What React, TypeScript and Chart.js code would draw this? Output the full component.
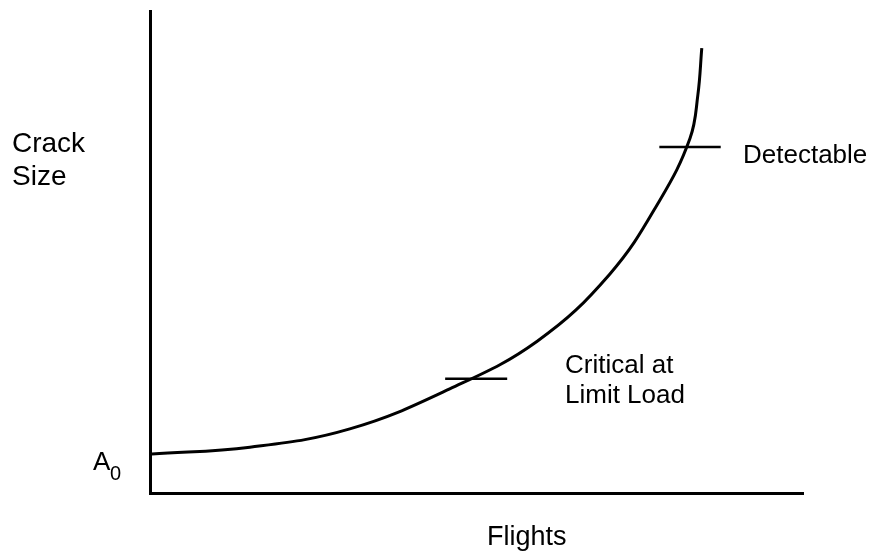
import React, { useEffect, useRef } from "react";
import { Chart, registerables } from "chart.js";

Chart.register(...registerables);

// Crack growth curve (x: flights %, y: crack size %)
const flights = [0.3, 15.3, 30.6, 45.9, 59.3, 70.4, 78.1, 82.7, 83.9, 84.5];
const crackSize = [8.1, 9.5, 13.3, 21.6, 31.5, 45.4, 60.8, 73.6, 82.6, 92.3];

// Marker ticks
const criticalX = [45.2, 54.7];
const criticalY = [23.7, 23.7];
const detectX = [78.0, 87.4];
const detectY = [71.8, 71.8];

const FONT = "'Liberation Sans', Arial, Helvetica, sans-serif";

const textPlugin = {
  id: "texts",
  afterDraw(chart: any) {
    const ctx = chart.ctx;
    ctx.save();
    ctx.fillStyle = "#000";
    ctx.textBaseline = "alphabetic";
    ctx.textAlign = "left";
    ctx.font = `28px ${FONT}`;
    ctx.fillText("Crack", 12, 152);
    ctx.fillText("Size", 12, 185);
    ctx.font = `26px ${FONT}`;
    ctx.fillText("Detectable", 743, 163);
    ctx.fillText("Critical at", 565, 373);
    ctx.fillText("Limit Load", 565, 403);
    ctx.font = `27px ${FONT}`;
    ctx.fillText("Flights", 487, 545);
    ctx.font = `26px ${FONT}`;
    ctx.fillText("A", 93, 470);
    ctx.font = `20px ${FONT}`;
    ctx.fillText("0", 110, 480);
    ctx.restore();
  },
};

export default function App() {
  const ref = useRef<HTMLCanvasElement>(null);
  useEffect(() => {
    if (!ref.current) return;
    const toPts = (xs: number[], ys: number[]) => xs.map((x, i) => ({ x, y: ys[i] }));
    const chart = new Chart(ref.current, {
      type: "line",
      data: {
        datasets: [
          {
            data: toPts(flights, crackSize),
            borderColor: "#000",
            borderWidth: 3,
            pointRadius: 0,
            tension: 0.4,
            fill: false,
          },
          {
            data: toPts(criticalX, criticalY),
            borderColor: "#000",
            borderWidth: 2.5,
            pointRadius: 0,
            fill: false,
          },
          {
            data: toPts(detectX, detectY),
            borderColor: "#000",
            borderWidth: 2.5,
            pointRadius: 0,
            fill: false,
          },
        ],
      },
      options: {
        animation: false,
        responsive: false,
        maintainAspectRatio: false,
        layout: { padding: { left: 150, right: 66, top: 11, bottom: 60 } },
        plugins: { legend: { display: false }, tooltip: { enabled: false } },
        scales: {
          x: {
            type: "linear",
            min: 0,
            max: 100,
            grid: { display: false, drawTicks: false, tickLength: 0 },
            border: { display: true, color: "#000", width: 3 },
            ticks: { display: false, padding: 0 },
          },
          y: {
            type: "linear",
            min: 0,
            max: 100,
            grid: { display: false, drawTicks: false, tickLength: 0 },
            border: { display: true, color: "#000", width: 3 },
            ticks: { display: false, padding: 0 },
          },
        },
      },
      plugins: [textPlugin],
    } as any);
    return () => chart.destroy();
  }, []);
  return (
    <div style={{ position: "fixed", left: 0, top: 0, width: 869, height: 553, background: "#fff" }}>
      <canvas ref={ref} width={869} height={553} style={{ width: 869, height: 553 }} />
    </div>
  );
}
